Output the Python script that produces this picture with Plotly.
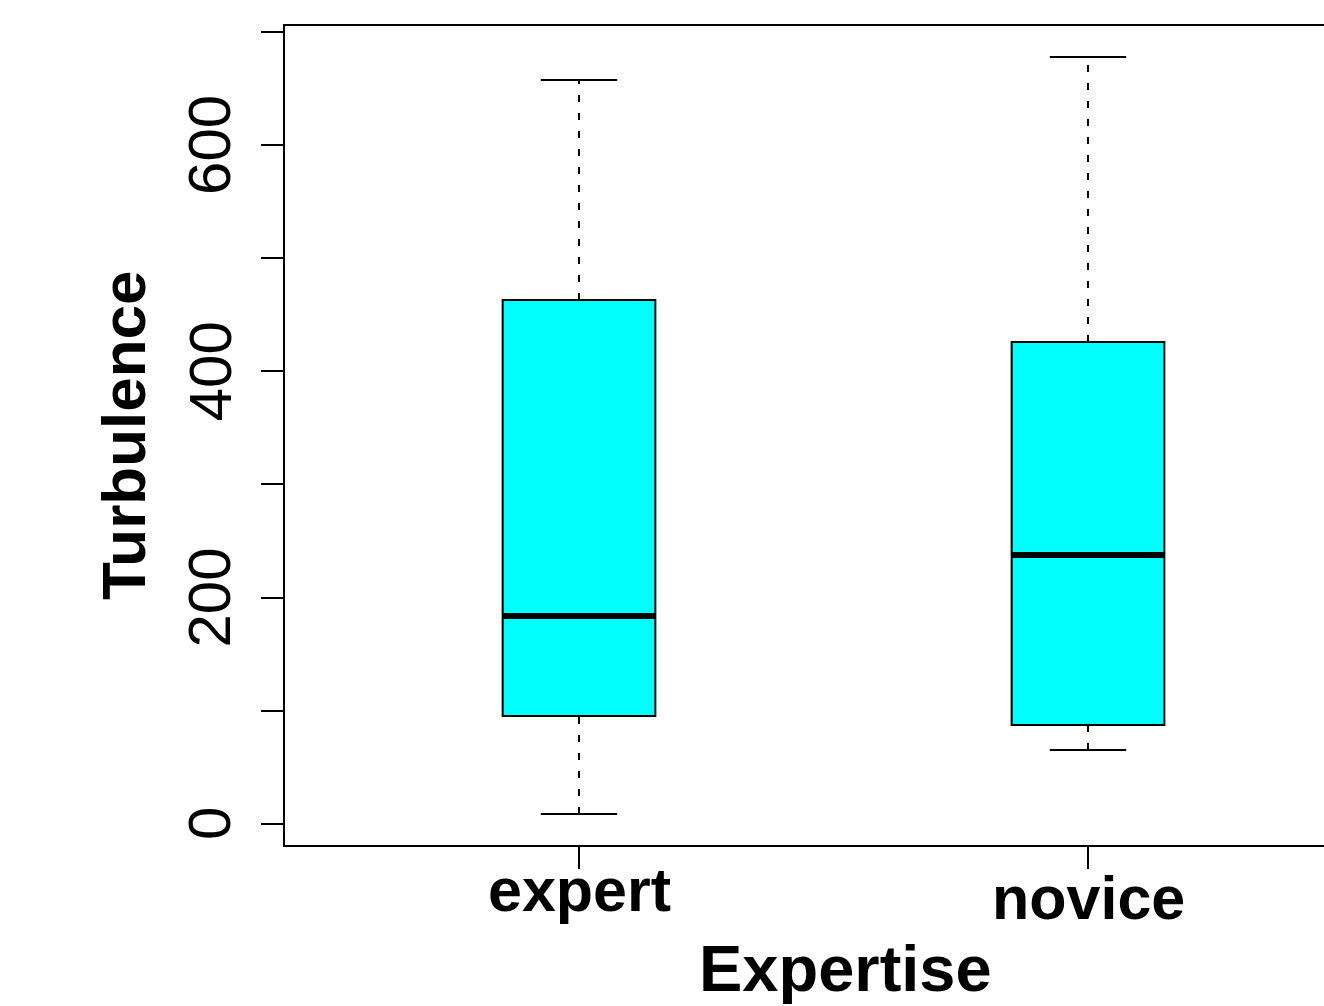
import plotly.graph_objects as go

# ---- data ----
groups = ["expert", "novice"]
lower_whisker = [8.8, 65.4]
q1_vals = [95.4, 87.5]
medians = [183.8, 237.7]
q3_vals = [463.0, 425.9]
upper_whisker = [657.4, 677.7]
y_tick_vals = [0, 100, 200, 300, 400, 500, 600, 700]
y_label_vals = [0, 200, 400, 600]
y_label_text = ["0", "200", "400", "600"]

# ---- layout constants ----
W, H = 1324, 1006
L, R, T, B = 285, 0, 26, 161
PW, PH = W - L - R, H - T - B
FONT = "Liberation Sans, Arial, Helvetica, sans-serif"
positions = [1, 2]
BOX_W = 0.30
CAP_W = 0.15
X_RANGE = [0.4224, 0.4224 + PW / 509.0]
Y_RANGE = [-18.6, 705.1]


def px_x(p):
    return (p - L) / PW


def px_y(p):
    return (H - B - p) / PH


fig = go.Figure()

for i, g in enumerate(groups):
    x0 = positions[i]
    # dashed whiskers
    fig.add_trace(go.Scatter(
        x=[x0, x0, None, x0, x0],
        y=[q3_vals[i], upper_whisker[i], None, lower_whisker[i], q1_vals[i]],
        mode="lines", line=dict(color="black", width=2, dash="7px,11px"),
        hoverinfo="skip", showlegend=False))
    # caps
    fig.add_trace(go.Scatter(
        x=[x0 - CAP_W / 2, x0 + CAP_W / 2, None, x0 - CAP_W / 2, x0 + CAP_W / 2],
        y=[upper_whisker[i], upper_whisker[i], None, lower_whisker[i], lower_whisker[i]],
        mode="lines", line=dict(color="black", width=2),
        hoverinfo="skip", showlegend=False))
    # box
    fig.add_trace(go.Box(
        x=[x0], q1=[q1_vals[i]], median=[medians[i]], q3=[q3_vals[i]],
        lowerfence=[q1_vals[i]], upperfence=[q3_vals[i]],
        width=BOX_W, whiskerwidth=0,
        fillcolor="#00FFFF", line=dict(color="black", width=2),
        name=g, showlegend=False, boxpoints=False))
    # thick median
    fig.add_trace(go.Scatter(
        x=[x0 - BOX_W / 2, x0 + BOX_W / 2], y=[medians[i], medians[i]],
        mode="lines", line=dict(color="black", width=6),
        hoverinfo="skip", showlegend=False))

annotations = []
# y tick labels (rotated, centred on their ticks)
for v, t in zip(y_label_vals, y_label_text):
    annotations.append(dict(
        text=t, xref="paper", yref="y", x=px_x(210), y=v,
        xanchor="center", yanchor="middle", showarrow=False, textangle=-90,
        font=dict(family=FONT, size=60, color="black")))
# category labels
label_y = {"expert": 890, "novice": 898}
for i, g in enumerate(groups):
    annotations.append(dict(
        text=g, xref="x", yref="paper", x=positions[i], y=px_y(label_y[g]),
        xanchor="center", yanchor="middle", showarrow=False,
        font=dict(family=FONT, size=61, color="black", weight="bold")))
# axis titles
annotations.append(dict(
    text="Expertise", xref="paper", yref="paper", x=px_x(845), y=px_y(969),
    xanchor="center", yanchor="middle", showarrow=False,
    font=dict(family=FONT, size=65, color="black", weight="bold")))
annotations.append(dict(
    text="Turbulence", xref="paper", yref="paper", x=px_x(123), y=px_y(435),
    xanchor="center", yanchor="middle", showarrow=False, textangle=-90,
    font=dict(family=FONT, size=62, color="black", weight="bold")))

fig.update_layout(
    width=W, height=H,
    margin=dict(l=L, r=R, t=T, b=B, pad=0),
    paper_bgcolor="white", plot_bgcolor="white",
    showlegend=False,
    annotations=annotations,
    xaxis=dict(
        range=X_RANGE, showgrid=False, zeroline=False,
        showline=True, linecolor="black", linewidth=2, mirror=True,
        ticks="outside", ticklen=22, tickwidth=2, tickcolor="black",
        tickvals=positions, showticklabels=False),
    yaxis=dict(
        range=Y_RANGE, showgrid=False, zeroline=False,
        showline=True, linecolor="black", linewidth=2,
        ticks="outside", ticklen=22, tickwidth=2, tickcolor="black",
        tickvals=y_tick_vals, showticklabels=False),
)

fig.write_html(
    "out.html",
    config={"displayModeBar": False},
    post_script="document.body.style.margin='0';document.body.style.overflow='hidden';",
)
